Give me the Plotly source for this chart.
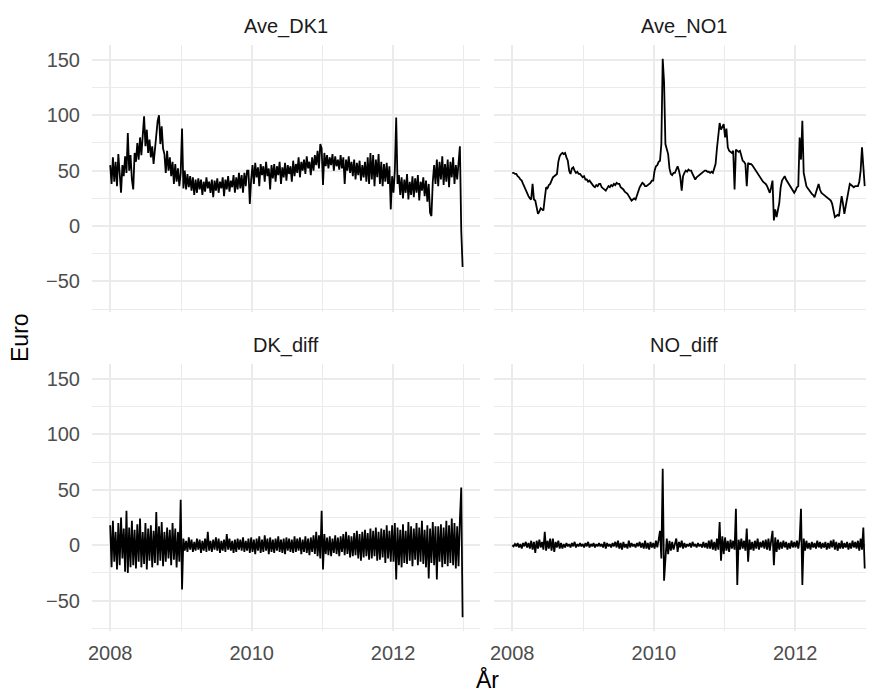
import pandas as pd
import plotly.graph_objects as go

# ---- Weekly readings (Euro), starting 2008-01-01 ----
dk1_2008 = [55, 38, 62, 40, 58, 36, 65, 42, 30, 55, 45, 63, 48, 84, 50, 64, 42, 33, 66, 58,
            75, 60, 80, 64, 86, 99, 72, 87, 66, 78, 62, 72, 56, 70, 82, 95, 100, 74, 90, 70,
            65, 48, 68, 50, 62, 45, 58, 38, 56, 40, 52, 36]
dk1_2009 = [48, 88, 34, 50, 33, 47, 35, 45, 32, 44, 28, 42, 30, 43, 33, 42, 28, 40, 31, 44,
            34, 40, 30, 42, 26, 41, 32, 43, 30, 40, 34, 44, 27, 42, 33, 45, 31, 41, 35, 46,
            30, 44, 33, 48, 34, 46, 30, 48, 36, 50, 50, 20]
dk1_2010 = [42, 55, 38, 57, 44, 53, 36, 56, 46, 54, 40, 58, 45, 52, 33, 55, 43, 56, 40, 54,
            46, 58, 38, 53, 44, 57, 41, 55, 47, 54, 40, 59, 45, 56, 48, 62, 44, 58, 50, 60,
            47, 63, 52, 58, 46, 62, 50, 64, 55, 68, 52, 74]
dk1_2011 = [70, 37, 66, 54, 64, 52, 62, 55, 65, 50, 63, 54, 60, 51, 64, 52, 62, 38, 60, 50,
            63, 48, 58, 45, 60, 42, 57, 46, 59, 41, 55, 44, 58, 40, 62, 38, 66, 42, 64, 36,
            60, 44, 65, 38, 58, 36, 56, 40, 57, 38, 54, 15]
dk1_2012 = [45, 30, 50, 98, 38, 46, 28, 44, 25, 42, 30, 47, 24, 40, 28, 45, 26, 43, 30, 46,
            23, 40, 32, 44, 27, 41, 22, 38, 12, 9, 40, 55, 38, 60, 36, 58, 42, 63, 37, 56,
            40, 60, 35, 58, 44, 62, 38, 55, 42, 60, 72, -4, -37]

no1_2008 = [48, 48, 47, 47, 45, 44, 42, 41, 38, 35, 32, 29, 27, 25, 24, 38, 24, 23, 15, 11,
            13, 16, 15, 14, 25, 35, 34, 37, 38, 41, 44, 45, 46, 47, 58, 63, 65, 66, 65, 66,
            62, 59, 50, 47, 52, 53, 50, 48, 49, 47, 47, 45]
no1_2009 = [44, 45, 42, 42, 40, 41, 39, 37, 36, 35, 37, 36, 38, 38, 35, 34, 33, 32, 34, 36,
            35, 37, 36, 38, 37, 39, 38, 38, 35, 34, 33, 31, 30, 29, 27, 25, 23, 24, 25, 24,
            28, 31, 35, 37, 39, 38, 36, 36, 37, 38, 39, 41]
no1_2010 = [41, 50, 54, 55, 58, 59, 74, 151, 130, 74, 70, 65, 52, 47, 46, 48, 48, 51, 54, 50,
            44, 32, 45, 48, 50, 49, 51, 50, 50, 47, 44, 42, 44, 45, 46, 47, 48, 49, 50, 50,
            49, 49, 48, 49, 48, 52, 56, 70, 83, 93, 87, 89]
no1_2011 = [92, 80, 88, 71, 68, 67, 66, 68, 33, 69, 68, 67, 68, 63, 59, 58, 56, 36, 57, 56,
            56, 55, 53, 51, 50, 48, 46, 44, 42, 40, 39, 38, 36, 33, 30, 35, 41, 5, 15, 8,
            14, 21, 35, 41, 43, 45, 42, 40, 38, 37, 35, 33]
no1_2012 = [30, 32, 35, 36, 80, 60, 95, 48, 40, 36, 34, 32, 30, 29, 28, 26, 30, 35, 38, 33,
            30, 29, 28, 27, 26, 25, 24, 23, 20, 12, 8, 9, 10, 9, 20, 27, 20, 11, 18, 26,
            30, 38, 37, 36, 35, 36, 36, 36, 40, 50, 71, 53, 36]

dkd_2008 = [18, -20, 22, -15, 12, -22, 20, -18, 25, -12, 15, -24, 31, -25, 16, -20, 22, -18, 14, -21,
            19, -15, 24, -20, 12, -17, 20, -22, 15, -14, 18, -20, 13, -16, 30, -18, 17, -14, 21, -19,
            12, -15, 16, -12, 14, -18, 20, -13, 15, -20, 12, -15]
dkd_2009 = [41, -40, 6, -5, 4, -6, 7, -4, 5, -6, 3, -5, 6, -4, 5, -7, 4, -5, 6, -6,
            12, -5, 4, -6, 5, -4, 7, -5, 6, -7, 4, -5, 5, -6, 10, -4, 6, -5, 4, -7,
            5, -6, 6, -4, 5, -5, 7, -6, 4, -5, 6, -7]
dkd_2010 = [7, -6, 5, -8, 6, -5, 8, -7, 5, -6, 9, -5, 6, -8, 7, -6, 5, -7, 6, -5,
            8, -6, 5, -7, 6, -8, 7, -5, 6, -6, 5, -7, 8, -6, 6, -5, 7, -8, 5, -6,
            8, -7, 6, -9, 7, -6, 9, -8, 12, -10, 9, -12]
dkd_2011 = [31, -22, 10, -8, 7, -9, 8, -10, 6, -7, 9, -8, 7, -10, 8, -6, 10, -9, 12, -8,
            9, -11, 8, -10, 11, -9, 13, -12, 10, -14, 12, -11, 14, -10, 11, -13, 15, -12, 13, -10,
            16, -14, 12, -13, 15, -11, 14, -16, 18, -12, 13, -15]
dkd_2012 = [18, -15, 20, -31, 16, -18, 14, -20, 19, -16, 13, -17, 21, -14, 17, -19, 15, -13, 20, -18,
            16, -15, 22, -17, 14, -20, 18, -30, 15, -16, 21, -18, 17, -31, 17, -15, 19, -20, 16, -17,
            22, -19, 18, -16, 24, -18, 20, -21, 17, -19, 23, 52, -65]

nod_2008 = [0, -1, 1, -1, 2, -2, 1, -3, 2, -1, 3, -2, 2, -3, 4, -4, 3, -7, 4, -3,
            5, -2, 3, -4, 12, -5, 4, -3, 6, -5, 6, -6, 3, -2, 4, -3, 2, -3, 1, -2,
            2, -1, 1, -2, 2, -1, 3, -2, 1, -1, 2, -1]
nod_2009 = [1, -2, 2, -1, 3, -2, 1, -1, 2, -2, 1, -1, 2, -1, 1, -2, 3, -3, 2, -1,
            1, -2, 2, -1, 3, -2, 4, -3, 2, -4, 3, -2, 1, -3, 4, -2, 2, -1, 1, -2,
            2, -1, 3, -2, 2, -3, 4, -3, 2, -4, 3, -2]
nod_2010 = [2, -3, 4, -2, 5, 13, -12, 69, -32, -10, 6, -8, 4, -5, 3, -4, 2, 6, -6, 3,
            -2, 4, -3, 2, -2, 1, -1, 2, -2, 3, -1, 1, -2, 2, -1, 1, -2, 3, -2, 2,
            -3, 4, -3, 5, -4, 3, -5, 6, -4, 21, -14, 8]
nod_2011 = [-8, 7, -5, 4, -6, 5, -3, 4, -4, 33, -36, 5, -4, 6, -3, 4, -5, 15, -15, 5,
            -4, 3, -5, 4, -3, 6, -4, 3, -2, 4, -3, 5, -4, 6, -5, 4, 13, -18, 7, -6,
            5, -4, 3, -3, 4, -2, 3, -4, 2, -3, 4, -2]
nod_2012 = [3, -2, 4, -3, 5, 33, -36, 6, -5, 4, -3, 2, -4, 3, -2, 2, -3, 4, -2, 3,
            -3, 2, -2, 3, -4, 2, -3, 4, -2, 5, -4, 3, -5, 2, -3, 4, -3, 2, -2, 3,
            -4, 2, -3, 4, -2, 3, -3, 4, -5, 6, -4, 16, -21]

panel_titles = ["Ave_DK1", "Ave_NO1", "DK_diff", "NO_diff"]
series = [
    dk1_2008 + dk1_2009 + dk1_2010 + dk1_2011 + dk1_2012,
    no1_2008 + no1_2009 + no1_2010 + no1_2011 + no1_2012,
    dkd_2008 + dkd_2009 + dkd_2010 + dkd_2011 + dkd_2012,
    nod_2008 + nod_2009 + nod_2010 + nod_2011 + nod_2012,
]
start_date = "2008-01-01"

x_tickvals = ["2008-01-01", "2010-01-01", "2012-01-01"]
x_ticktext = ["2008", "2010", "2012"]
x_minor = ["2009-01-01", "2011-01-01", "2013-01-01"]
y_tickvals = [-50, 0, 50, 100, 150]
y_minor = [-75, -25, 25, 75, 125]

FONT = "Arial, Liberation Sans, sans-serif"
GRID = "#EBEBEB"
TICK_SIZE = 20
TITLE_SIZE = 23

fig = go.Figure()
axes_ids = ["", "2", "3", "4"]
for k, (vals, aid) in enumerate(zip(series, axes_ids)):
    dates = pd.date_range(start_date, periods=len(vals), freq="7D")
    fig.add_trace(go.Scatter(
        x=dates, y=vals, mode="lines",
        line=dict(color="black", width=1.8),
        xaxis="x" + aid, yaxis="y" + aid, showlegend=False, hoverinfo="skip",
    ))

# page has an 8px body margin: figure is offset by (8, 8) in the window
ML, MT = 84, 37
xdom = [[0, 0.4962], [0.5141, 1.0]]
ydom = [[0.5447, 1.0], [0.0, 0.4553]]
xranges = [["2007-09-29", "2013-03-25"], ["2007-09-29", "2013-02-11"]]

layout = dict(
    width=866, height=685,
    margin=dict(l=ML, r=0, t=MT, b=62),
    paper_bgcolor="white", plot_bgcolor="white",
    font=dict(family=FONT, size=TICK_SIZE, color="#4D4D4D"),
    showlegend=False,
)

for k, aid in enumerate(axes_ids):
    col = k % 2
    row = k // 2
    layout["xaxis" + aid] = dict(
        type="date", domain=xdom[col], range=xranges[col], anchor="y" + aid,
        tickmode="array", tickvals=x_tickvals, ticktext=x_ticktext,
        showticklabels=(row == 1), ticks="", showline=False, zeroline=False,
        showgrid=True, gridcolor=GRID, gridwidth=1.6,
        minor=dict(tickmode="array", tickvals=x_minor, showgrid=True,
                   gridcolor=GRID, gridwidth=1.0, ticks=""),
        tickfont=dict(family=FONT, size=TICK_SIZE, color="#4D4D4D"),
        ticklabelstandoff=8,
    )
    layout["yaxis" + aid] = dict(
        domain=ydom[row], range=[-77.5, 163.5], anchor="x" + aid,
        tickmode="array", tickvals=y_tickvals,
        showticklabels=(col == 0), ticks="", showline=False, zeroline=False,
        showgrid=True, gridcolor=GRID, gridwidth=1.6,
        minor=dict(tickmode="array", tickvals=y_minor, showgrid=True,
                   gridcolor=GRID, gridwidth=1.0, ticks=""),
        tickfont=dict(family=FONT, size=TICK_SIZE, color="#4D4D4D"),
        ticklabelstandoff=11,
    )

annotations = []
for k, title in enumerate(panel_titles):
    col = k % 2
    row = k // 2
    annotations.append(dict(
        text=title, xref="paper", yref="paper",
        x=(xdom[col][0] + xdom[col][1]) / 2, y=ydom[row][1],
        xanchor="center", yanchor="bottom", yshift=5, showarrow=False,
        font=dict(family=FONT, size=TICK_SIZE, color="#1A1A1A"),
    ))
annotations.append(dict(
    text="Euro", xref="paper", yref="paper", x=(12 - ML) / 782, y=0.5,
    xanchor="center", yanchor="middle", textangle=-90, showarrow=False,
    font=dict(family=FONT, size=TITLE_SIZE, color="black"),
))
annotations.append(dict(
    text="År", xref="paper", yref="paper", x=(479 - ML) / 782, y=0,
    xanchor="center", yanchor="middle", yshift=-48, showarrow=False,
    font=dict(family=FONT, size=TITLE_SIZE, color="black"),
))
layout["annotations"] = annotations

fig.update_layout(**layout)
fig.write_html("out.html")
